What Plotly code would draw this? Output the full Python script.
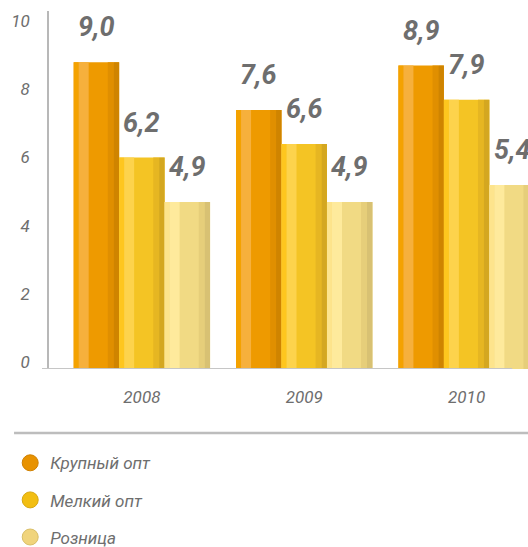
import plotly.graph_objects as go

# ---- data ----
years = [2008, 2009, 2010]
series_names = ["Крупный опт", "Мелкий опт", "Розница"]
krupny_opt = [9.0, 7.6, 8.9]
melky_opt = [6.2, 6.6, 7.9]
roznitsa = [4.9, 4.9, 5.4]
y_ticks = [0, 2, 4, 6, 8, 10]

series_values = [krupny_opt, melky_opt, roznitsa]

# ---- styles ----
FONT = "Roboto, DejaVu Sans Condensed, sans-serif"
GRAY = "#6e6e6e"
palettes = [
    dict(edge="#F4A200", light="#F6B03C", mid="#EE9A00", d1="#E08F00", d2="#CF8400", leg="#E89200", legline="#D08000"),
    dict(edge="#FEC61E", light="#FDD34C", mid="#F4C424", d1="#E6B622", d2="#D4A720", leg="#F2BE12", legline="#D8A810"),
    dict(edge="#FDE48C", light="#FEEA9C", mid="#F1DA84", d1="#E6CE7A", d2="#D8C173", leg="#F0D47C", legline="#D8BE68"),
]

W = 0.28          # bar width in x units
GROUP_LEFT = -0.42

fig = go.Figure()

stripes = [  # (start fraction, width fraction, palette key)
    (0.0, 1.0, "mid"),
    (0.0, 0.11, "edge"),
    (0.11, 0.22, "light"),
    (0.75, 0.13, "d1"),
    (0.88, 0.12, "d2"),
]

for k, (name, vals) in enumerate(zip(series_names, series_values)):
    base_off = GROUP_LEFT + k * W
    pal = palettes[k]
    for (s, w, key) in stripes:
        fig.add_trace(go.Bar(
            x=years, y=vals,
            offset=base_off + s * W, width=w * W,
            marker=dict(color=pal[key], line=dict(width=0)),
            showlegend=False, hoverinfo="skip" if key != "mid" else None,
            name=name,
        ))
    for xi, v in zip(years, vals):
        fig.add_annotation(
            x=xi + base_off + W / 2, y=v, xref="x", yref="y",
            text=f"{v:.1f}".replace(".", ","),
            showarrow=False, yanchor="middle", xanchor="center", yshift=35,
            font=dict(family=FONT, size=27, color=GRAY, weight="bold", style="italic"),
        )

for k, name in enumerate(series_names):
    pal = palettes[k]
    fig.add_trace(go.Scatter(
        x=[None], y=[None], mode="markers", name=name, legendgroup=name,
        marker=dict(symbol="circle", size=19, color=pal["leg"], line=dict(color=pal["legline"], width=1)),
    ))

fig.add_shape(type="line", xref="paper", yref="y", x0=-0.0146, x1=0.967, y0=0, y1=0,
              line=dict(color="#c6c6c6", width=2))
fig.add_shape(type="line", xref="paper", yref="paper", x0=-0.073, x1=1.0, y0=-0.179, y1=-0.179,
              line=dict(color="#bdbdbd", width=2.5))

fig.update_layout(
    width=528, height=547,
    margin=dict(l=49, r=0, t=11, b=178, autoexpand=False),
    plot_bgcolor="white", paper_bgcolor="white",
    barmode="overlay",
    showlegend=True,
    legend=dict(x=-0.081, y=-0.213, xanchor="left", yanchor="top",
                font=dict(family=FONT, size=17, color=GRAY, style="italic"),
                tracegroupgap=12, bgcolor="rgba(0,0,0,0)"),
    xaxis=dict(range=[2007.428, 2010.378], tickvals=years, ticktext=[str(y) for y in years],
               showgrid=False, zeroline=False, showline=False, ticks="", automargin=False,
               ticklabelstandoff=16,
               tickfont=dict(family=FONT, size=17, color=GRAY, style="italic")),
    yaxis=dict(range=[0, 10.5], tickvals=y_ticks, ticktext=[str(t) for t in y_ticks],
               showgrid=False, zeroline=False, showline=True, linecolor="#b8b8b8", linewidth=1.5,
               ticks="", ticklabelstandoff=14, ticklabelshift=-7, automargin=False,
               tickfont=dict(family=FONT, size=17, color=GRAY, style="italic")),
)

fig.write_html("out.html", config={"displayModeBar": False},
               post_script="document.body.style.margin='0';document.body.style.overflow='hidden';")
